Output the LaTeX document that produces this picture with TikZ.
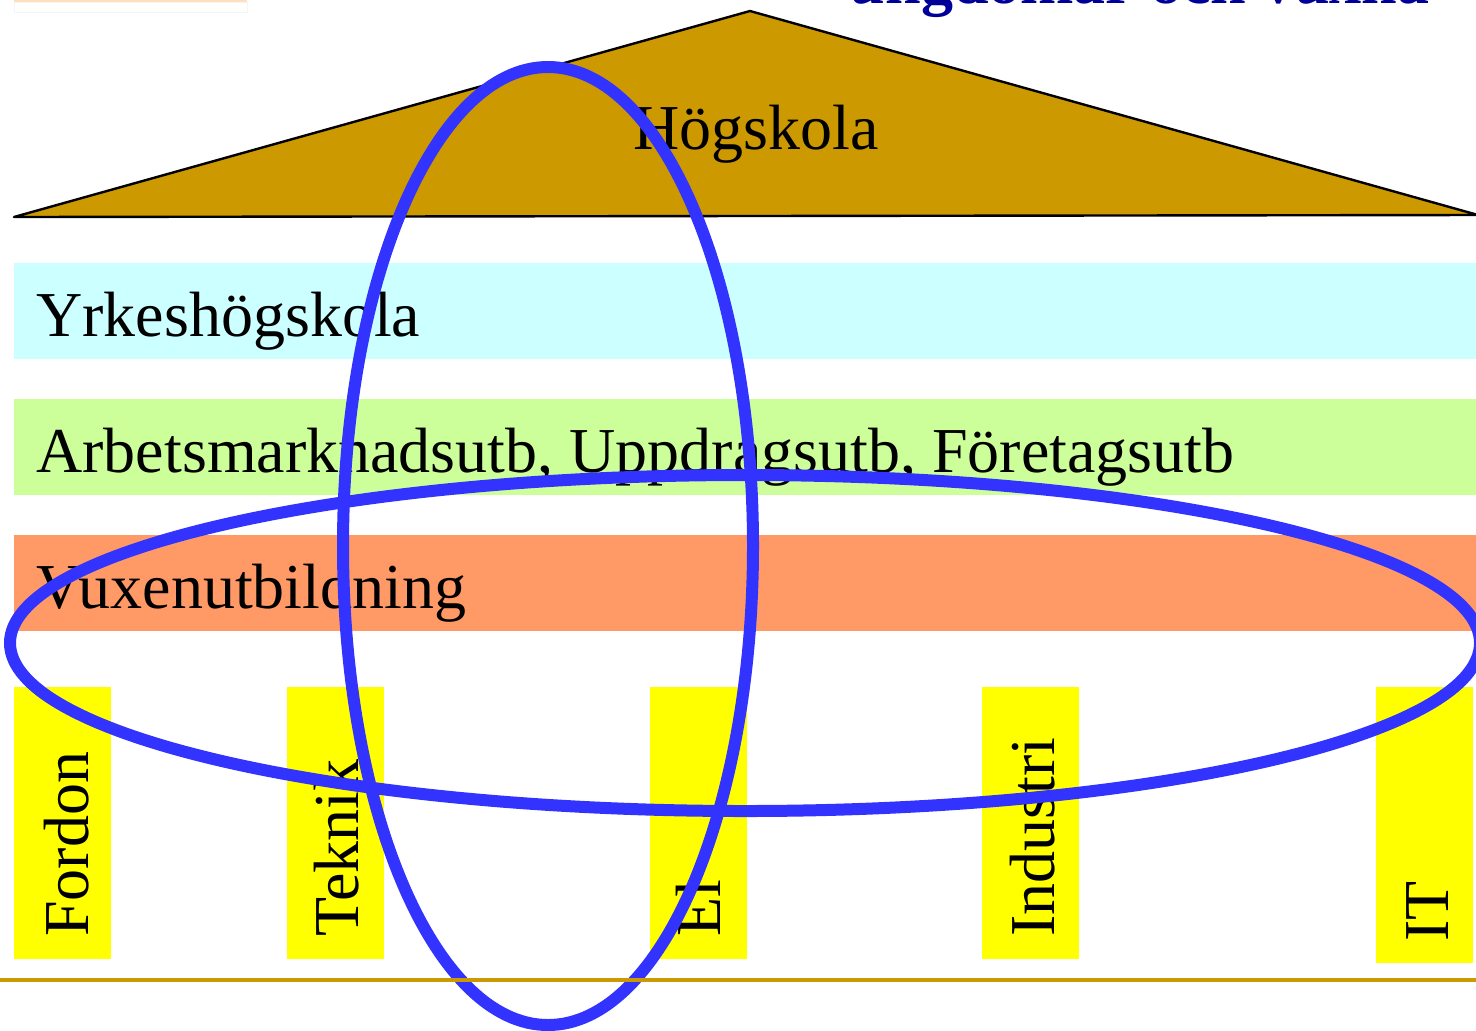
\documentclass[tikz,border=0pt]{standalone}
\usepackage{fontspec}
\setmainfont{Liberation Serif}
\usepackage{xcolor}
\usepackage{tikz}
\usetikzlibrary{positioning, shapes}
\definecolor{roofgold}{HTML}{CC9900}
\definecolor{bandcyan}{HTML}{CCFFFF}
\definecolor{bandgreen}{HTML}{CCFF99}
\definecolor{bandorange}{HTML}{FF9966}
\definecolor{pillaryellow}{HTML}{FFFF00}
\definecolor{ringblue}{HTML}{3333FF}
\definecolor{titleblue}{HTML}{000099}

\begin{document}
\begin{tikzpicture}[x=0.5pt, y=-0.5pt,
    every node/.style={inner sep=0pt, font=\fontsize{32}{38}\selectfont},
    band/.style={rectangle, anchor=north west, minimum width=731pt, minimum height=48pt},
    pillar/.style={rectangle, anchor=north west, fill=pillaryellow, minimum width=48.5pt, minimum height=136pt},
    pillartext/.style={rotate=90, anchor=base west},
    bandtext/.style={anchor=base west},
    ring/.style={draw=ringblue, line width=6pt}]
    \useasboundingbox (0,0) rectangle (1476,1030);
    \clip (0,0) rectangle (1476,1030);
    \draw[orange!25, line width=1pt] (14,1) -- (247,1);
    \draw[gray!8] (14,2) rectangle (247,12);
    % roof
    \coordinate (roofl) at (14,217);
    \coordinate (rooftop) at (750,11);
    \coordinate (roofr) at (1478,215);
    \draw[fill=roofgold, line width=1.2pt, line join=round] (roofl) -- (rooftop) -- (roofr) -- cycle;
    \node[anchor=base] (hogskola) at (756,149) {Högskola};
    % bands
    \node[band, fill=bandcyan] (yh) at (14,263) {};
    \node[band, fill=bandgreen] (amu) at (14,399) {};
    \node[band, fill=bandorange] (komvux) at (14,535) {};
    \node[bandtext] (yhtext) at (36,336) {Yrkeshögskola};
    \node[bandtext] (amutext) at (36,472) {Arbetsmarknadsutb, Uppdragsutb, Företagsutb};
    \node[bandtext] (komvuxtext) at (36,608) {Vuxenutbildning};
    % pillars
    \node[pillar] (fordon) at (14,687) {};
    \node[pillar] (teknik) at (287,687) {};
    \node[pillar] (el) at (650,687) {};
    \node[pillar] (industri) at (982,687) {};
    \node[pillar, minimum height=138pt] (it) at (1376,687) {};
    \node[pillartext] (fordontext) at (88,937) {Fordon};
    \node[pillartext] (tekniktext) at (358,937) {Teknik};
    \node[pillartext] (eltext) at (720,937) {El};
    \node[pillartext] (industritext) at (1054,937) {Industri};
    \node[pillartext] (ittext) at (1448,942) {IT};
    % rings
    \draw[ring] (548,546) ellipse [x radius=102.5pt, y radius=239.5pt];
    \draw[ring] (745,643) ellipse [x radius=367.5pt, y radius=84pt];
    % title, cut by the page
    \node[anchor=base east, text=titleblue, font=\fontsize{32}{38}\selectfont\bfseries] (title) at (1430,3) {ungdomar och vuxna};
    \draw[roofgold, line width=2pt] (0,980) -- (1476,980);
\end{tikzpicture}
\end{document}
